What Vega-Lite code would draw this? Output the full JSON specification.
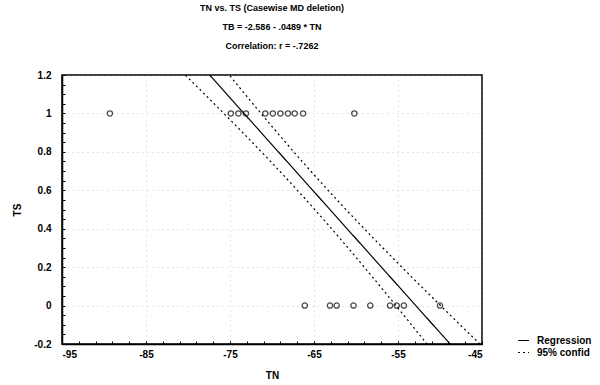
{
  "$schema": "https://vega.github.io/schema/vega-lite/v6.json",
  "width": 420,
  "height": 269,
  "autosize": "none",
  "padding": {"left": 62, "top": 75, "right": 118, "bottom": 41},
  "background": "white",
  "config": {
    "font": "Liberation Sans",
    "view": {"stroke": "black", "strokeWidth": 1.5},
    "axis": {"domainColor": "black", "domainWidth": 1.5, "tickColor": "black", "tickWidth": 1, "labelColor": "black", "labelFont": "Liberation Sans", "labelFontWeight": "bold", "labelFontSize": 10, "labelOverlap": false, "titleFont": "Liberation Sans", "titleFontWeight": "bold", "titleFontSize": 10, "titleColor": "black"}
  },
  "title": {
    "text": ["TN vs. TS (Casewise MD deletion)", "TB = -2.586 - .0489 * TN", "Correlation: r = -.7262"],
    "font": "Liberation Sans",
    "fontSize": 9,
    "fontWeight": "bold",
    "color": "black",
    "lineHeight": 19,
    "anchor": "middle",
    "offset": 19
  },
  "datasets": {
    "points": [
      {"TN": -89.3, "TS": 1},
      {"TN": -74.9, "TS": 1},
      {"TN": -74.0, "TS": 1},
      {"TN": -73.1, "TS": 1},
      {"TN": -70.8, "TS": 1},
      {"TN": -69.9, "TS": 1},
      {"TN": -69.0, "TS": 1},
      {"TN": -68.1, "TS": 1},
      {"TN": -67.3, "TS": 1},
      {"TN": -66.3, "TS": 1},
      {"TN": -60.2, "TS": 1},
      {"TN": -66.1, "TS": 0},
      {"TN": -63.1, "TS": 0},
      {"TN": -62.3, "TS": 0},
      {"TN": -60.3, "TS": 0},
      {"TN": -58.3, "TS": 0},
      {"TN": -55.95, "TS": 0},
      {"TN": -55.15, "TS": 0},
      {"TN": -54.3, "TS": 0},
      {"TN": -50.0, "TS": 0}
    ],
    "lines": [
      {"series": "Regression", "part": "reg", "TN": -82, "TS": 1.4238},
      {"series": "Regression", "part": "reg", "TN": -44, "TS": -0.4344},
      {"series": "95% confid", "part": "lower", "TN": -82, "TS": 1.2717},
      {"series": "95% confid", "part": "lower", "TN": -78, "TS": 1.0991},
      {"series": "95% confid", "part": "lower", "TN": -74, "TS": 0.9232},
      {"series": "95% confid", "part": "lower", "TN": -70, "TS": 0.742},
      {"series": "95% confid", "part": "lower", "TN": -66, "TS": 0.5529},
      {"series": "95% confid", "part": "lower", "TN": -62, "TS": 0.3541},
      {"series": "95% confid", "part": "lower", "TN": -58, "TS": 0.1466},
      {"series": "95% confid", "part": "lower", "TN": -54, "TS": -0.0671},
      {"series": "95% confid", "part": "lower", "TN": -50, "TS": -0.2848},
      {"series": "95% confid", "part": "upper", "TN": -78, "TS": 1.3573},
      {"series": "95% confid", "part": "upper", "TN": -74, "TS": 1.142},
      {"series": "95% confid", "part": "upper", "TN": -70, "TS": 0.932},
      {"series": "95% confid", "part": "upper", "TN": -66, "TS": 0.7299},
      {"series": "95% confid", "part": "upper", "TN": -62, "TS": 0.5375},
      {"series": "95% confid", "part": "upper", "TN": -58, "TS": 0.3538},
      {"series": "95% confid", "part": "upper", "TN": -54, "TS": 0.1763},
      {"series": "95% confid", "part": "upper", "TN": -50, "TS": 0.0028},
      {"series": "95% confid", "part": "upper", "TN": -46, "TS": -0.1684},
      {"series": "95% confid", "part": "upper", "TN": -44, "TS": -0.2534}
    ]
  },
  "layer": [
    {
      "data": {"name": "lines"},
      "mark": {"type": "line", "clip": true, "color": "black", "strokeWidth": 1.2, "interpolate": "monotone"},
      "encoding": {
        "x": {
          "field": "TN", "type": "quantitative",
          "scale": {"domain": [-95, -45], "nice": false, "zero": false},
          "axis": {
            "title": "TN",
            "values": [-95, -93, -91, -89, -87, -85, -83, -81, -79, -77, -75, -73, -71, -69, -67, -65, -63, -61, -59, -57, -55, -53, -51, -49, -47, -45],
            "tickCount": 200,
            "labelExpr": "(datum.value + 95) % 10 == 0 ? '' + datum.value : ''",
            "labelOverlap": false,
            "tickSize": -3,
            "labelPadding": 8,
            "titlePadding": 11,
            "grid": true,
            "gridColor": "#999",
            "gridDash": [1, 4],
            "gridOpacity": {"condition": {"test": "(datum.value + 95) % 10 == 0", "value": 0.5}, "value": 0}
          }
        },
        "y": {
          "field": "TS", "type": "quantitative",
          "scale": {"domain": [-0.2, 1.2], "nice": false, "zero": false},
          "axis": {
            "title": "TS",
            "values": [-0.2, -0.15, -0.1, -0.05, 0, 0.05, 0.1, 0.15, 0.2, 0.25, 0.3, 0.35, 0.4, 0.45, 0.5, 0.55, 0.6, 0.65, 0.7, 0.75, 0.8, 0.85, 0.9, 0.95, 1, 1.05, 1.1, 1.15, 1.2],
            "tickCount": 200,
            "labelExpr": "abs(round(datum.value * 100)) % 20 == 0 ? '' + datum.value : ''",
            "labelOverlap": false,
            "tickSize": -3,
            "labelPadding": 14,
            "titlePadding": 11,
            "grid": true,
            "gridColor": "#999",
            "gridDash": [1, 4],
            "gridOpacity": {"condition": {"test": "abs(round(datum.value * 100)) % 20 == 0", "value": 0.5}, "value": 0}
          }
        },
        "detail": {"field": "part"},
        "strokeDash": {
          "field": "series", "type": "nominal",
          "scale": {"domain": ["Regression", "95% confid"], "range": [[1, 0], [2, 3]]},
          "legend": {
            "title": null,
            "orient": "none",
            "legendX": 455,
            "legendY": 259,
            "symbolType": "stroke",
            "symbolSize": 120,
            "symbolStrokeColor": "black",
            "symbolStrokeWidth": 1.2,
            "labelFont": "Liberation Sans",
            "labelFontSize": 10,
            "labelFontWeight": "bold",
            "labelColor": "black",
            "labelOffset": 7,
            "rowPadding": 0
          }
        }
      }
    },
    {
      "data": {"name": "points"},
      "mark": {"type": "point", "shape": "circle", "filled": false, "color": "black", "size": 28, "strokeWidth": 1.3},
      "encoding": {
        "x": {"field": "TN", "type": "quantitative"},
        "y": {"field": "TS", "type": "quantitative"}
      }
    }
  ]
}
